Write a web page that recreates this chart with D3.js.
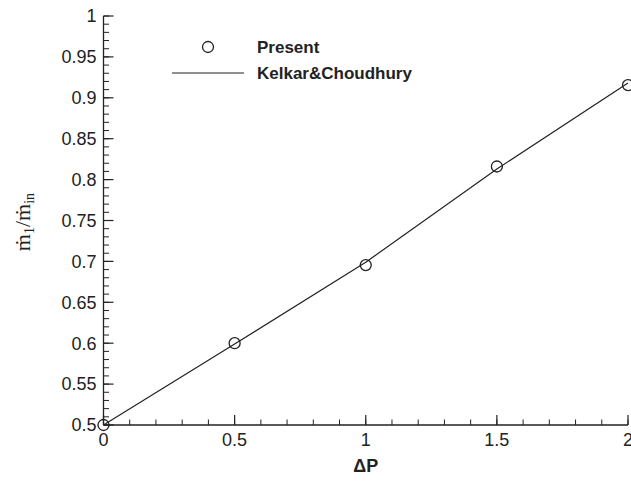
<!DOCTYPE html>
<html><head><meta charset="utf-8">
<script src="https://cdn.jsdelivr.net/npm/d3@7"></script>
<style>body{margin:0;background:#fff}svg{display:block}text{font-family:"Liberation Sans",Arial,sans-serif}</style>
</head><body>
<script>
const presentX = [0, 0.5, 1, 1.5, 2];
const presentY = [0.5, 0.6, 0.6955, 0.816, 0.9155];
const kelkarX = [0, 0.5, 1, 1.5, 2];
const kelkarY = [0.5, 0.599, 0.699, 0.813, 0.918];
const xTicks = [0, 0.5, 1, 1.5, 2];
const xTickLabels = ["0", "0.5", "1", "1.5", "2"];
const yTicks = [0.5, 0.55, 0.6, 0.65, 0.7, 0.75, 0.8, 0.85, 0.9, 0.95, 1];
const yTickLabels = ["0.5", "0.55", "0.6", "0.65", "0.7", "0.75", "0.8", "0.85", "0.9", "0.95", "1"];
const legendLabels = ["Present", "Kelkar&Choudhury"];

const W = 631, H = 482;
const svg = d3.select("body").append("svg").attr("width", W).attr("height", H);
const x = d3.scaleLinear().domain([0, 2]).range([103.5, 628]);
const y = d3.scaleLinear().domain([0.5, 1]).range([425, 16]);

// x axis
const xMinor = d3.range(0, 2.0001, 0.1);
const gx = svg.append("g").attr("transform", `translate(0,${y(0.5)})`);
gx.append("line").attr("x1", x(0)).attr("x2", x(2)).attr("stroke", "#222").attr("stroke-width", 1.3);
gx.selectAll(".mn").data(xMinor).enter().append("line")
  .attr("x1", d => x(d)).attr("x2", d => x(d)).attr("y1", 0).attr("y2", -5.5).attr("stroke", "#222").attr("stroke-width", 1);
gx.selectAll(".mj").data(xTicks).enter().append("line")
  .attr("x1", d => x(d)).attr("x2", d => x(d)).attr("y1", 0).attr("y2", -10).attr("stroke", "#222").attr("stroke-width", 1.2);
gx.selectAll(".lb").data(xTicks).enter().append("text")
  .attr("x", d => x(d)).attr("y", 21).attr("text-anchor", "middle").attr("font-size", 18).attr("fill", "#222")
  .text((d, i) => xTickLabels[i]);
svg.append("text").attr("x", x(1)).attr("y", 472).attr("text-anchor", "middle").attr("font-size", 18).attr("font-weight", "bold").attr("fill", "#222").text("ΔP");

// y axis
const yMinor = d3.range(0.5, 1.0001, 0.01);
const gy = svg.append("g").attr("transform", `translate(${x(0)},0)`);
gy.append("line").attr("y1", y(0.5)).attr("y2", y(1)).attr("stroke", "#222").attr("stroke-width", 1.3);
gy.selectAll(".mn").data(yMinor).enter().append("line")
  .attr("y1", d => y(d)).attr("y2", d => y(d)).attr("x1", 0).attr("x2", 5.5).attr("stroke", "#222").attr("stroke-width", 1);
gy.selectAll(".mj").data(yTicks).enter().append("line")
  .attr("y1", d => y(d)).attr("y2", d => y(d)).attr("x1", 0).attr("x2", 10).attr("stroke", "#222").attr("stroke-width", 1.2);
gy.selectAll(".lb").data(yTicks).enter().append("text")
  .attr("x", -7).attr("y", d => y(d)).attr("dy", "0.35em").attr("text-anchor", "end").attr("font-size", 18).attr("fill", "#222")
  .text((d, i) => yTickLabels[i]);

// y label
const yl = svg.append("text").attr("transform", "translate(30,222) rotate(-90)").attr("text-anchor", "middle")
  .style("font-family", "'Liberation Serif','DejaVu Serif',serif").attr("font-size", 22).attr("fill", "#222");
yl.append("tspan").text("ṁ");
yl.append("tspan").attr("font-size", 14).attr("dy", 4).text("1");
yl.append("tspan").attr("dy", -4).text("/ṁ");
yl.append("tspan").attr("font-size", 14).attr("dy", 4).text("in");

// line
const line = d3.line().x((d, i) => x(kelkarX[i])).y(d => y(d));
svg.append("path").datum(kelkarY).attr("d", line).attr("fill", "none").attr("stroke", "#222").attr("stroke-width", 1.2);

// points
svg.selectAll(".pt").data(presentY).enter().append("circle")
  .attr("cx", (d, i) => x(presentX[i])).attr("cy", d => y(d)).attr("r", 5.5)
  .attr("fill", "none").attr("stroke", "#222").attr("stroke-width", 1.3);

// legend
svg.append("circle").attr("cx", 208).attr("cy", 47).attr("r", 5.5).attr("fill", "none").attr("stroke", "#222").attr("stroke-width", 1.3);
svg.append("line").attr("x1", 172).attr("x2", 244).attr("y1", 73).attr("y2", 73).attr("stroke", "#222").attr("stroke-width", 1.2);
svg.selectAll(".lg").data(legendLabels).enter().append("text")
  .attr("x", 257).attr("y", (d, i) => 47 + 26 * i).attr("dy", "0.35em").attr("font-size", 17).attr("font-weight", "bold").attr("fill", "#222")
  .text(d => d);
</script>
</body></html>
